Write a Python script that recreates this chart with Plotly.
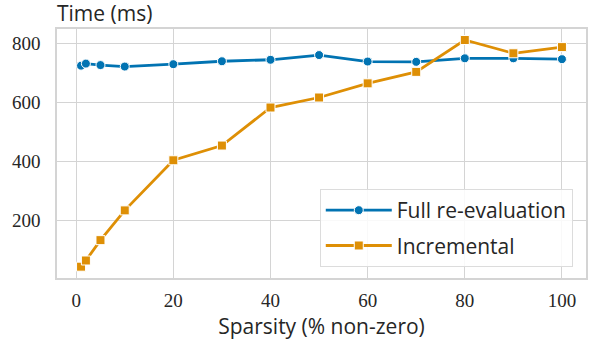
import plotly.graph_objects as go

# sparsity levels (% non-zero)
sparsity = [1, 2, 5, 10, 20, 30, 40, 50, 60, 70, 80, 90, 100]
# runtime in ms
full_reeval = [724, 731, 726, 721, 729, 739, 744, 760, 738, 737, 749, 749, 746]
incremental = [42, 63, 132, 233, 403, 453, 582, 616, 664, 703, 811, 766, 787]

x_ticks = [0, 20, 40, 60, 80, 100]
y_ticks = [200, 400, 600, 800]

blue = "#0173b2"
orange = "#de8f05"
grid = "#d4d4d4"
label_font = "Open Sans"
tick_font = "Liberation Serif, Times New Roman, serif"

fig = go.Figure()

fig.add_trace(
    go.Scatter(
        x=sparsity,
        y=full_reeval,
        mode="lines+markers",
        name="Full re-evaluation",
        legendgroup="full",
        line=dict(color=blue, width=2.8),
        marker=dict(symbol="circle", size=9, color=blue, line=dict(color="white", width=1)),
    )
)
fig.add_trace(
    go.Scatter(
        x=sparsity,
        y=incremental,
        mode="lines+markers",
        name="Incremental",
        legendgroup="incr",
        line=dict(color=orange, width=2.8),
        marker=dict(symbol="square", size=9, color=orange, line=dict(color="white", width=1)),
    )
)

fig.update_layout(
    width=598,
    height=354,
    plot_bgcolor="white",
    paper_bgcolor="white",
    margin=dict(l=57, r=12, t=29, b=76),
    font=dict(family=label_font, color="#262626", size=20),
    legend=dict(
        x=0.975,
        y=0.044,
        xanchor="right",
        yanchor="bottom",
        bgcolor="rgba(255,255,255,0.85)",
        bordercolor="#dcdcdc",
        borderwidth=1,
        font=dict(family=label_font, size=21, color="#262626"),
        itemwidth=66,
        tracegroupgap=5,
    ),
    annotations=[
        dict(
            text="Time (ms)",
            x=0,
            y=1,
            xref="paper",
            yref="paper",
            xanchor="left",
            yanchor="bottom",
            xshift=-2,
            yshift=0,
            showarrow=False,
            font=dict(family=label_font, size=21, color="#262626"),
        )
    ],
)

fig.update_xaxes(
    range=[-3.95, 104.95],
    tickvals=x_ticks,
    showgrid=True,
    gridcolor=grid,
    gridwidth=1,
    zeroline=False,
    showline=True,
    mirror=True,
    linecolor=grid,
    linewidth=1.5,
    ticks="",
    automargin=False,
    ticklabelstandoff=4,
    tickfont=dict(family=tick_font, size=19, color="#262626"),
    title=dict(text="Sparsity (% non-zero)", font=dict(family=label_font, size=21), standoff=10),
)
fig.update_yaxes(
    range=[3.6, 848.4],
    tickvals=y_ticks,
    showgrid=True,
    gridcolor=grid,
    gridwidth=1,
    zeroline=False,
    showline=True,
    mirror=True,
    linecolor=grid,
    linewidth=1.5,
    ticks="",
    automargin=False,
    ticklabelstandoff=11,
    tickfont=dict(family=tick_font, size=19, color="#262626"),
)

# drop the default 8px body margin so the figure sits at the window's corner
fig.write_html(
    "out.html",
    config={"displayModeBar": False},
    post_script="document.body.style.margin = '0';",
)
